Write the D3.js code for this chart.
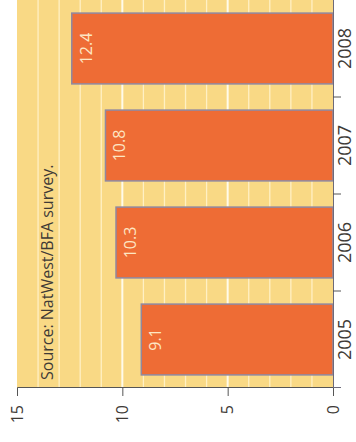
<!DOCTYPE html>
<html>
<head>
<meta charset="utf-8">
<script src="https://cdn.jsdelivr.net/npm/d3@7"></script>
<style>
  body { margin: 0; background: #fff; }
  svg { display: block; }
  text { font-family: "Open Sans", sans-serif; }
</style>
</head>
<body>
<div id="chart"></div>
<script>
// data
var years = ["2005", "2006", "2007", "2008"];
var values = [9.1, 10.3, 10.8, 12.4];
var valueTicks = [0, 5, 10, 15];
var sourceText = "Source: NatWest/BFA survey.";

// the chart is a column chart turned a quarter turn anticlockwise
var margin = {top: 0, right: 23, bottom: 54, left: 17},
    outerW = 356, outerH = 442,
    plotW = outerH - margin.top - margin.bottom,   // along the years
    plotH = outerW - margin.left - margin.right;   // along the values

var svg = d3.select("#chart")
  .append("svg")
    .attr("width", outerW)
    .attr("height", outerH);

var g = svg.append("g")
    .attr("transform", "translate(" + margin.left + "," + (outerH - margin.bottom) + ") rotate(-90)");

var x = d3.scaleBand()
  .domain(years)
  .range([0, plotW])
  .paddingInner(0.27)
  .paddingOuter(0.135);

var y = d3.scaleLinear()
  .domain([0, 15])
  .range([plotH, 0]);

// background
g.append("rect")
  .attr("x", 0).attr("y", 0)
  .attr("width", plotW).attr("height", plotH)
  .attr("fill", "#f9d985");

// grid lines, one per unit
g.selectAll(".grid")
  .data(d3.range(1, 15))
  .enter().append("line")
    .attr("class", "grid")
    .attr("x1", 0).attr("x2", plotW)
    .attr("y1", function(d) { return y(d); })
    .attr("y2", function(d) { return y(d); })
    .attr("stroke", function(d) { return d % 5 == 0 ? "#fffbea" : "#fff0c4"; })
    .attr("stroke-width", function(d) { return d % 5 == 0 ? 2 : 1.3; });

// bars
g.selectAll(".bar")
  .data(values)
  .enter().append("rect")
    .attr("class", "bar")
    .attr("x", function(d, i) { return x(years[i]); })
    .attr("y", function(d) { return y(d); })
    .attr("width", x.bandwidth())
    .attr("height", function(d) { return plotH - y(d); })
    .attr("fill", "#ee6c35")
    .attr("stroke", "#9088a0")
    .attr("stroke-width", 1.5);

// value labels inside the bars
g.selectAll(".lbl")
  .data(values)
  .enter().append("text")
    .attr("class", "lbl")
    .attr("x", function(d, i) { return x(years[i]) + x.bandwidth() / 2; })
    .attr("y", function(d) { return y(d) + 20; })
    .attr("text-anchor", "middle")
    .attr("font-size", 16)
    .attr("fill", "#fde6c4")
    .text(function(d) { return d.toFixed(1); });

// source note
g.append("text")
  .attr("x", 8)
  .attr("y", 36)
  .attr("font-size", 16)
  .attr("fill", "#3e3a36")
  .text(sourceText);

// value axis (along the bottom once turned)
var yAxis = g.append("g")
  .call(d3.axisLeft(y).tickValues(valueTicks).tickSize(8).tickPadding(9));
yAxis.selectAll("text").attr("font-size", 16).attr("fill", "#3e3a36");

// year axis (along the right once turned)
var xAxis = g.append("g")
  .attr("transform", "translate(0," + plotH + ")")
  .call(d3.axisBottom(x).tickSizeInner(0).tickSizeOuter(8).tickPadding(5));
xAxis.selectAll("text").attr("font-size", 18).attr("fill", "#3e3a36");

// ticks between the years
xAxis.selectAll(".sep")
  .data(d3.range(1, years.length))
  .enter().append("line")
    .attr("class", "sep")
    .attr("x1", function(i) { return x(years[i]) - x.step() * x.paddingInner() / 2; })
    .attr("x2", function(i) { return x(years[i]) - x.step() * x.paddingInner() / 2; })
    .attr("y1", 0).attr("y2", 8)
    .attr("stroke", "#555");

svg.selectAll(".domain, .tick line").attr("stroke", "#555");
xAxis.select(".domain").attr("stroke", "#6d6a7a");
</script>
</body>
</html>
